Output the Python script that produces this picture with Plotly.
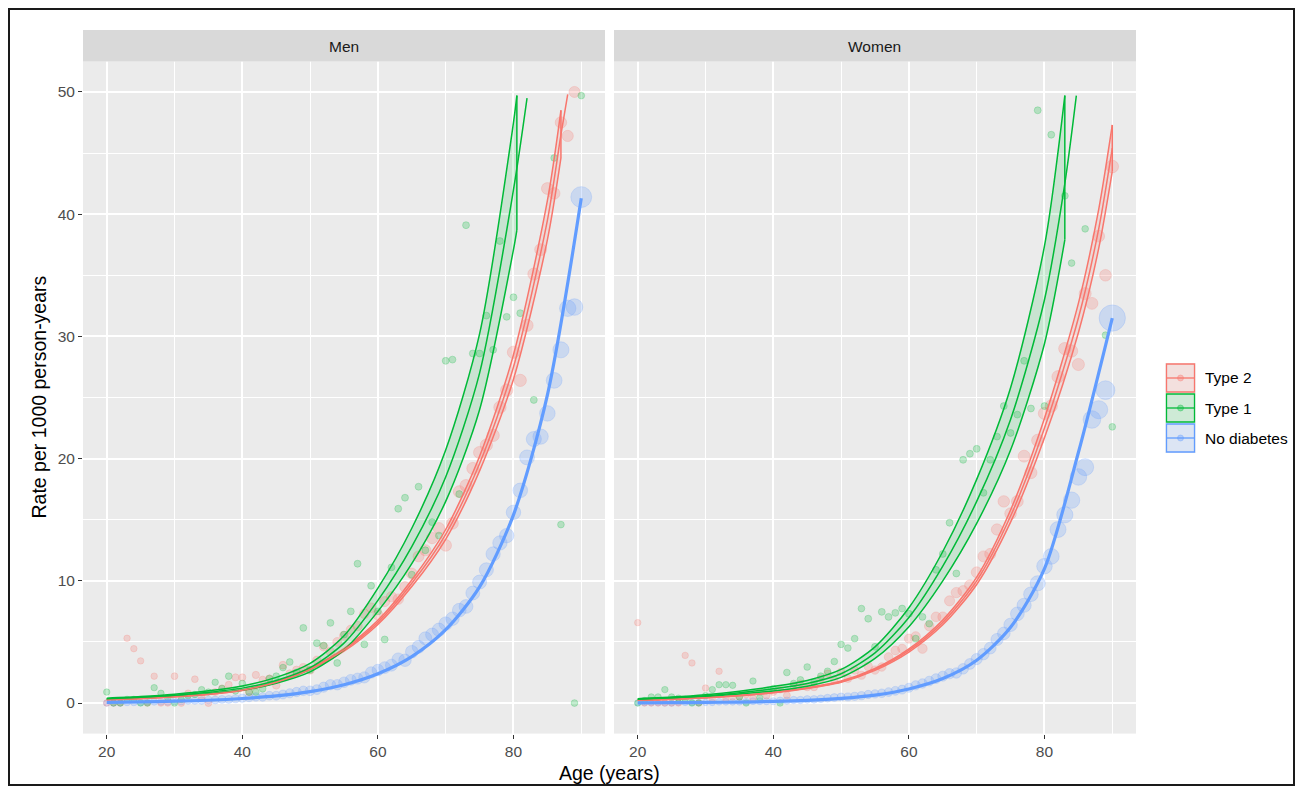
import plotly.graph_objects as go

W, H = 1303, 794          # browser window
OFF = 8                    # page body margin
FW, FH = W - 2 * OFF, H - 2 * OFF   # figure size that fits the window

# ---------------- data ----------------
ages = list(range(20, 91))

# observed rates per 1000 person-years, ages 20..90
men_t2_rate = [0, 0, 0, 5.3, 4.45, 3.45, 0, 2.2, 0, 0,
               2.2, 0, 0.8, 1.95, 0.5, 0, 0.9, 1.2, 1.5, 2.1,
               2.1, 0.9, 2.3, 1.9, 2.0, 1.45, 3.1, 2.4, 2.7, 2.9,
               2.7, 3.5, 4.6, 4.2, 5.0, 5.5, 6.0, 6.3, 7.3, 7.8,
               7.2, 8.3, 8.7, 8.5, 9.5, 10.6, 12.0, 12.5, 13.5, 14.3,
               12.9, 14.7, 17.3, 17.8, 19.2, 20.5, 21.1, 21.9, 24.2, 25.6,
               28.7, 26.4, 30.9, 35.1, 37.1, 42.1, 41.7, 47.5, 46.4, 50.0,
               None]
men_t1_rate = [0.9, 0, 0, 0.3, 0.3, 0, 0, 1.26, 0.8, 0.4,
               0, 0.3, 0.6, 0.7, 1.1, 0.9, 1.7, 1.2, 2.2, 1.0,
               1.6, 0.9, 0.9, 1.17, 2.0, 2.2, 2.9, 3.36, 2.5, 6.15,
               2.7, 4.9, 4.7, 6.56, 3.28, 5.6, 7.5, 11.4, 4.8, 9.6,
               7.5, 5.2, 11.1, 15.9, 16.8, 10.5, 17.7, 12.5, 14.8, 13.7,
               28.0, 28.1, 17.1, 39.1, 28.6, 28.6, 31.7, 28.9, 37.8, 31.6,
               33.2, 31.9, None, 24.8, None, None, 44.6, 14.6, None, 0,
               49.7]
men_nd_rate = [0, 0, 0, 0.05, 0.05, 0.05, 0.1, 0.1, 0.1, 0.1,
               0.15, 0.15, 0.2, 0.2, 0.2, 0.25, 0.25, 0.3, 0.3, 0.35,
               0.4, 0.45, 0.5, 0.5, 0.6, 0.6, 0.7, 0.8, 0.9, 1.0,
               1.0, 1.1, 1.3, 1.5, 1.5, 1.7, 1.9, 2.0, 2.1, 2.5,
               2.7, 2.9, 3.1, 3.6, 3.5, 4.2, 4.6, 5.3, 5.6, 6.0,
               6.5, 6.9, 7.6, 7.9, 9.0, 9.9, 10.9, 12.2, 13.1, 13.7,
               15.6, 17.4, 20.1, 21.6, 21.8, 23.7, 26.4, 28.9, 32.3, 32.4,
               41.4]
wom_t2_rate = [6.58, 0, 0, 0, 0, 0, 0, 3.9, 3.28, 0,
               1.23, 0.3, 2.6, 0.3, 0.5, 0.5, 0.7, 0.4, 0.9, 0.6,
               0.9, 1.1, 0.63, 1.4, 1.6, 1.3, 1.3, 2.0, 2.4, 1.9,
               2.54, 2.0, 2.68, 2.27, 3.0, 2.7, 2.95, 3.77, 4.3, 4.45,
               5.27, 5.46, 4.45, 6.3, 7.05, 7.05, 8.36, 9.04, 9.18, 9.64,
               10.7, 12.0, 12.2, 14.2, 16.5, 15.5, 16.5, 20.2, 18.85, 21.5,
               23.7, 24.3, 26.7, 29.0, 28.8, 27.7, 33.5, 32.7, 38.2, 35.0,
               43.9]
wom_t1_rate = [0, 0.2, 0.5, 0.5, 1.1, 0.5, 0.4, 0.3, 0, 0,
               0.6, 1.1, 1.5, 1.5, 1.45, 0.5, 0, 1.8, 0.44, 1.0,
               1.2, 0, 2.5, 1.6, 1.9, 2.95, 1.7, 2.2, 2.6, 3.4,
               4.8, 4.5, 5.27, 7.73, 6.9, 4.6, 7.46, 7.05, 7.38, 7.73,
               7.3, 5.27, 7.05, 6.5, 10.9, 12.2, 14.75, 10.6, 19.9, 20.4,
               20.8, 17.2, 19.9, 21.8, 24.3, 22.1, 23.6, 28.0, 24.1, 48.5,
               24.3, 46.5, None, 41.5, 36.0, None, 38.8, None, None, 30.1,
               22.6]
wom_nd_rate = [0, 0, 0, 0, 0, 0, 0.05, 0.05, 0.05, 0.05,
               0.05, 0.05, 0.1, 0.1, 0.1, 0.1, 0.1, 0.15, 0.15, 0.15,
               0.15, 0.2, 0.2, 0.25, 0.25, 0.3, 0.3, 0.35, 0.4, 0.45,
               0.5, 0.5, 0.55, 0.6, 0.7, 0.75, 0.8, 0.9, 1.0, 1.1,
               1.25, 1.45, 1.6, 1.8, 2.0, 2.2, 2.4, 2.46, 2.8, 3.2,
               3.6, 4.0, 4.5, 5.2, 5.7, 6.4, 7.3, 8.0, 8.9, 9.8,
               11.2, 12.0, 14.2, 15.4, 16.6, 18.5, 19.3, 23.2, 24.0, 25.6,
               31.5]

# number of events (mapped to point area), ages 20..90
men_t2_events = [1]*10 + [2, 2, 2, 2, 2, 3, 3, 3, 3, 4] + \
    [4, 5, 5, 6, 7, 8, 9, 10, 11, 12] + [14, 16, 18, 20, 22, 25, 28, 30, 33, 36] + \
    [40, 44, 48, 52, 56, 60, 64, 68, 72, 76] + [80, 84, 88, 90, 92, 95, 97, 100, 100, 100] + \
    [100, 98, 95, 92, 88, 85, 80, 75, 70, 65] + [90]
men_t1_events = [1]*18 + [2]*10 + [3]*36 + [2]*7
men_nd_events = [1, 1, 1, 2, 2, 2, 3, 3, 3, 4,
                 4, 5, 5, 6, 7, 8, 9, 10, 11, 12,
                 13, 14, 16, 18, 20, 22, 24, 27, 30, 33,
                 36, 40, 44, 48, 52, 56, 60, 65, 70, 75,
                 80, 85, 90, 100, 105, 110, 115, 120, 125, 130,
                 136, 140, 145, 150, 155, 160, 165, 170, 172, 175,
                 177, 185, 195, 205, 215, 224, 235, 250, 265, 277,
                 540]
wom_t2_events = [1]*15 + [2]*5 + [3, 3, 3, 4, 4, 5, 5, 6, 7, 8] + \
    [9, 10, 11, 12, 14, 15, 17, 19, 21, 23] + [25, 28, 31, 34, 37, 40, 44, 48, 52, 56] + \
    [60, 64, 68, 72, 76, 80, 84, 88, 92, 95] + [98, 100, 100, 100, 98, 95, 92, 88, 84, 80] + [110]
wom_t1_events = [1]*22 + [2]*12 + [3]*30 + [2]*7
wom_nd_events = [0, 0, 0, 0, 1, 1, 1, 1, 1, 1,
                 1, 1, 2, 2, 2, 2, 3, 3, 3, 4,
                 4, 5, 5, 6, 6, 7, 8, 8, 9, 10,
                 11, 12, 13, 14, 15, 16, 18, 20, 22, 24,
                 26, 29, 32, 35, 38, 42, 46, 50, 55, 60,
                 69, 75, 85, 95, 110, 136, 150, 165, 185, 205,
                 224, 235, 245, 255, 265, 277, 300, 330, 360, 400,
                 1000]

# fitted rates with confidence limits (values above 50 are cut by the axis limit)
step_ages = [20, 25, 30, 35, 40, 45, 50, 55, 60, 65, 70, 75, 80]

men_t2_band_age = step_ages + [85, 87]
men_t2_lo = [0.255, 0.355, 0.505, 0.70, 1.02, 1.65, 2.73, 4.24, 6.43, 9.53, 13.4, 19.0, 26.5, 37.9, 44.6]
men_t2_hi = [0.285, 0.385, 0.535, 0.74, 1.08, 1.75, 2.87, 4.46, 6.77, 10.07, 14.2, 20.2, 28.5, 41.1, 48.5]
men_t2_fit_age = step_ages + [85, 87, 88]
men_t2_fit = [0.27, 0.37, 0.52, 0.72, 1.05, 1.70, 2.80, 4.35, 6.60, 9.80, 13.8, 19.6, 27.5, 39.5, 46.5, 49.8]

men_t1_band_age = step_ages + [80.5]
men_t1_lo = [0.31, 0.41, 0.56, 0.77, 1.05, 1.62, 2.55, 4.35, 7.5, 11.4, 16.5, 24.0, 37.1, 38.7]
men_t1_hi = [0.40, 0.53, 0.72, 1.00, 1.40, 2.10, 3.25, 5.50, 9.4, 14.3, 20.7, 30.2, 47.5, 49.7]
men_t1_fit_age = step_ages + [82]
men_t1_fit = [0.35, 0.47, 0.64, 0.88, 1.22, 1.85, 2.9, 4.9, 8.4, 12.8, 18.5, 27.0, 42.0, 49.5]

men_nd_fit_age = step_ages + [85, 90]
men_nd_fit = [0.06, 0.09, 0.15, 0.23, 0.37, 0.58, 0.93, 1.5, 2.4, 3.8, 6.0, 9.5, 15.4, 25.2, 41.3]

wom_t2_band_age = step_ages + [85, 88, 90]
wom_t2_lo = [0.212, 0.302, 0.43, 0.60, 0.835, 1.185, 1.70, 2.67, 4.17, 6.40, 9.70, 14.8, 21.7, 30.3, 37.2, 43.5]
wom_t2_hi = [0.228, 0.318, 0.45, 0.64, 0.885, 1.255, 1.80, 2.83, 4.43, 6.80, 10.3, 15.8, 23.3, 32.7, 40.4, 47.3]
wom_t2_fit_age = step_ages + [85, 88, 90]
wom_t2_fit = [0.22, 0.31, 0.44, 0.62, 0.86, 1.22, 1.75, 2.75, 4.3, 6.6, 10.0, 15.3, 22.5, 31.5, 38.8, 45.4]

wom_t1_band_age = step_ages + [83]
wom_t1_lo = [0.28, 0.38, 0.53, 0.75, 0.99, 1.38, 2.1, 3.65, 6.25, 10.0, 14.7, 20.7, 29.4, 37.9]
wom_t1_hi = [0.36, 0.49, 0.68, 0.97, 1.35, 1.85, 2.75, 4.6, 7.8, 12.4, 18.3, 25.8, 37.4, 49.7]
wom_t1_fit_age = step_ages + [83, 84.7]
wom_t1_fit = [0.32, 0.43, 0.60, 0.85, 1.17, 1.60, 2.4, 4.1, 7.0, 11.2, 16.5, 23.2, 33.0, 42.5, 49.7]

wom_nd_fit_age = step_ages + [85, 90]
wom_nd_fit = [0.02, 0.03, 0.05, 0.08, 0.13, 0.22, 0.38, 0.65, 1.15, 2.0, 3.5, 6.2, 11.0, 20.5, 31.5]

groups = ["Type 2", "Type 1", "No diabetes"]
panels = ["Men", "Women"]
x_ticks = [20, 40, 60, 80]
y_ticks = [0, 10, 20, 30, 40, 50]

# ---------------- styling ----------------
COL = {"Type 2": "#F8766D", "Type 1": "#00BA38", "No diabetes": "#619CFF"}
FONT = "Liberation Sans, Arial, Helvetica, sans-serif"
TICK_SIZE = 15.5
SMALL_SIZE = 15.5
TITLE_SIZE = 19.5
LW = 1.5


def rgba(h, a):
    h = h.lstrip('#')
    r, g, b = int(h[0:2], 16), int(h[2:4], 16), int(h[4:6], 16)
    return f"rgba({r},{g},{b},{a})"


all_events = men_t2_events + men_t1_events + men_nd_events + wom_t2_events + wom_t1_events + wom_nd_events
EMAX = max(all_events)


def sizes(ev):
    return [5.8 + 20.5 * (e / EMAX) ** 0.5 for e in ev]


# page-pixel -> paper coordinates
def px2x(p):
    return (p - OFF) / FW


def px2y(p):
    return 1 - (p - OFF) / FH


fig = go.Figure()

panel_data = {
    "Men": dict(
        ax=("x", "y"),
        pts={"No diabetes": (men_nd_rate, men_nd_events),
             "Type 2": (men_t2_rate, men_t2_events),
             "Type 1": (men_t1_rate, men_t1_events)},
        bands={"Type 2": (men_t2_band_age, men_t2_lo, men_t2_hi),
               "Type 1": (men_t1_band_age, men_t1_lo, men_t1_hi)},
        fits={"Type 2": (men_t2_fit_age, men_t2_fit),
              "Type 1": (men_t1_fit_age, men_t1_fit),
              "No diabetes": (men_nd_fit_age, men_nd_fit)}),
    "Women": dict(
        ax=("x2", "y2"),
        pts={"No diabetes": (wom_nd_rate, wom_nd_events),
             "Type 2": (wom_t2_rate, wom_t2_events),
             "Type 1": (wom_t1_rate, wom_t1_events)},
        bands={"Type 2": (wom_t2_band_age, wom_t2_lo, wom_t2_hi),
               "Type 1": (wom_t1_band_age, wom_t1_lo, wom_t1_hi)},
        fits={"Type 2": (wom_t2_fit_age, wom_t2_fit),
              "Type 1": (wom_t1_fit_age, wom_t1_fit),
              "No diabetes": (wom_nd_fit_age, wom_nd_fit)}),
}

for pname in panels:
    d = panel_data[pname]
    xa, ya = d["ax"]
    # points
    for g in ["No diabetes", "Type 2", "Type 1"]:
        rate, ev = d["pts"][g]
        fig.add_trace(go.Scatter(
            x=ages, y=rate, mode="markers", xaxis=xa, yaxis=ya, showlegend=False,
            hoverinfo="skip",
            marker=dict(size=sizes(ev), color=rgba(COL[g], 0.33),
                        line=dict(color=rgba(COL[g], 0.33), width=1))))
    # confidence bands
    for g in ["Type 2", "Type 1"]:
        a, lo, hi = d["bands"][g]
        fig.add_trace(go.Scatter(
            x=a, y=lo, mode="lines", xaxis=xa, yaxis=ya, showlegend=False, hoverinfo="skip",
            line=dict(color=COL[g], width=LW, shape="spline", smoothing=0.8)))
        fig.add_trace(go.Scatter(
            x=a, y=hi, mode="lines", xaxis=xa, yaxis=ya, showlegend=False, hoverinfo="skip",
            fill="tonexty", fillcolor=rgba(COL[g], 0.14),
            line=dict(color=COL[g], width=LW, shape="spline", smoothing=0.8)))
        fig.add_trace(go.Scatter(
            x=[a[-1], a[-1]], y=[hi[-1], lo[-1]], mode="lines", xaxis=xa, yaxis=ya,
            showlegend=False, hoverinfo="skip", line=dict(color=COL[g], width=LW)))
    # fitted lines
    for g in ["Type 2", "Type 1", "No diabetes"]:
        a, f = d["fits"][g]
        fig.add_trace(go.Scatter(
            x=a, y=f, mode="lines", xaxis=xa, yaxis=ya, showlegend=False, hoverinfo="skip",
            line=dict(color=COL[g], width=3.2 if g == "No diabetes" else LW,
                      shape="spline", smoothing=0.8)))

# ---------------- layout ----------------
men_x = [px2x(83), px2x(605)]
wom_x = [px2x(614), px2x(1136)]
pan_y = [px2y(733.6), px2y(61.4)]

common_x = dict(range=[16.5, 93.5], tickmode="array", tickvals=x_ticks,
                showgrid=True, gridcolor="white", gridwidth=1.6,
                minor=dict(tickmode="array", tickvals=[30, 50, 70, 90], showgrid=True,
                           gridcolor="white", gridwidth=0.8, ticks=""),
                ticks="outside", ticklen=4, tickwidth=1.1, tickcolor="#333333",
                tickfont=dict(family=FONT, size=TICK_SIZE, color="#4D4D4D"),
                zeroline=False, showline=False, fixedrange=True)
common_y = dict(range=[-2.5, 52.5], domain=pan_y, tickmode="array", tickvals=y_ticks,
                showgrid=True, gridcolor="white", gridwidth=1.6,
                minor=dict(tickmode="array", tickvals=[5, 15, 25, 35, 45], showgrid=True,
                           gridcolor="white", gridwidth=0.8, ticks=""),
                zeroline=False, showline=False, fixedrange=True)

shapes = []
annotations = []

# facet strips
for name, dom in (("Men", men_x), ("Women", wom_x)):
    shapes.append(dict(type="rect", xref="paper", yref="paper", x0=dom[0], x1=dom[1],
                       y0=px2y(61.4), y1=px2y(30), fillcolor="#D9D9D9", line=dict(width=0)))
    annotations.append(dict(text=name, xref="paper", yref="paper", x=(dom[0] + dom[1]) / 2,
                            y=px2y(46), xanchor="center", yanchor="middle", showarrow=False,
                            font=dict(family=FONT, size=SMALL_SIZE, color="#1A1A1A")))

# axis titles
annotations.append(dict(text="Age (years)", xref="paper", yref="paper",
                        x=(men_x[0] + wom_x[1]) / 2, y=px2y(773), xanchor="center",
                        yanchor="middle", showarrow=False,
                        font=dict(family=FONT, size=TITLE_SIZE, color="black")))
annotations.append(dict(text="Rate per 1000 person-years", xref="paper", yref="paper",
                        x=px2x(38), y=(pan_y[0] + pan_y[1]) / 2, textangle=-90,
                        xanchor="center", yanchor="middle", showarrow=False,
                        font=dict(family=FONT, size=TITLE_SIZE, color="black")))

# legend (ggplot-style keys)
for i, g in enumerate(groups):
    top = 364 + 30 * i
    bot = top + 28
    cy = (top + bot) / 2
    shapes.append(dict(type="rect", xref="paper", yref="paper", x0=px2x(1165), x1=px2x(1196),
                       y0=px2y(bot + 1), y1=px2y(top - 1), fillcolor="#F2F2F2", line=dict(width=0)))
    shapes.append(dict(type="rect", xref="paper", yref="paper", x0=px2x(1166.5), x1=px2x(1194.5),
                       y0=px2y(bot), y1=px2y(top), fillcolor=rgba(COL[g], 0.15),
                       line=dict(color=COL[g], width=1.3)))
    shapes.append(dict(type="line", xref="paper", yref="paper", x0=px2x(1166.5), x1=px2x(1194.5),
                       y0=px2y(cy), y1=px2y(cy), line=dict(color=COL[g], width=1.3)))
    shapes.append(dict(type="circle", xref="paper", yref="paper", x0=px2x(1177.5), x1=px2x(1183.5),
                       y0=px2y(cy + 3), y1=px2y(cy - 3), fillcolor=rgba(COL[g], 0.35),
                       line=dict(color=rgba(COL[g], 0.35), width=1)))
    annotations.append(dict(text=g, xref="paper", yref="paper", x=px2x(1203), y=px2y(cy),
                            xanchor="left", yanchor="middle", showarrow=False,
                            font=dict(family=FONT, size=SMALL_SIZE, color="black")))

# outer frame
shapes.append(dict(type="rect", xref="paper", yref="paper", x0=px2x(9), x1=px2x(1294),
                   y0=px2y(785), y1=px2y(9), line=dict(color="#1A1A1A", width=2),
                   fillcolor="rgba(0,0,0,0)"))

fig.update_layout(
    width=FW, height=FH, autosize=False,
    margin=dict(l=0, r=0, t=0, b=0),
    paper_bgcolor="white", plot_bgcolor="#EBEBEB",
    font=dict(family=FONT, size=13, color="black"),
    showlegend=False,
    xaxis=dict(common_x, domain=men_x, anchor="y"),
    xaxis2=dict(common_x, domain=wom_x, anchor="y2"),
    yaxis=dict(common_y, anchor="x", ticks="outside", ticklen=4, tickwidth=1.1,
               tickcolor="#333333", tickfont=dict(family=FONT, size=TICK_SIZE, color="#4D4D4D")),
    yaxis2=dict(common_y, anchor="x2", matches="y", showticklabels=False, ticks=""),
    shapes=shapes, annotations=annotations,
)

fig.write_html("out.html")
